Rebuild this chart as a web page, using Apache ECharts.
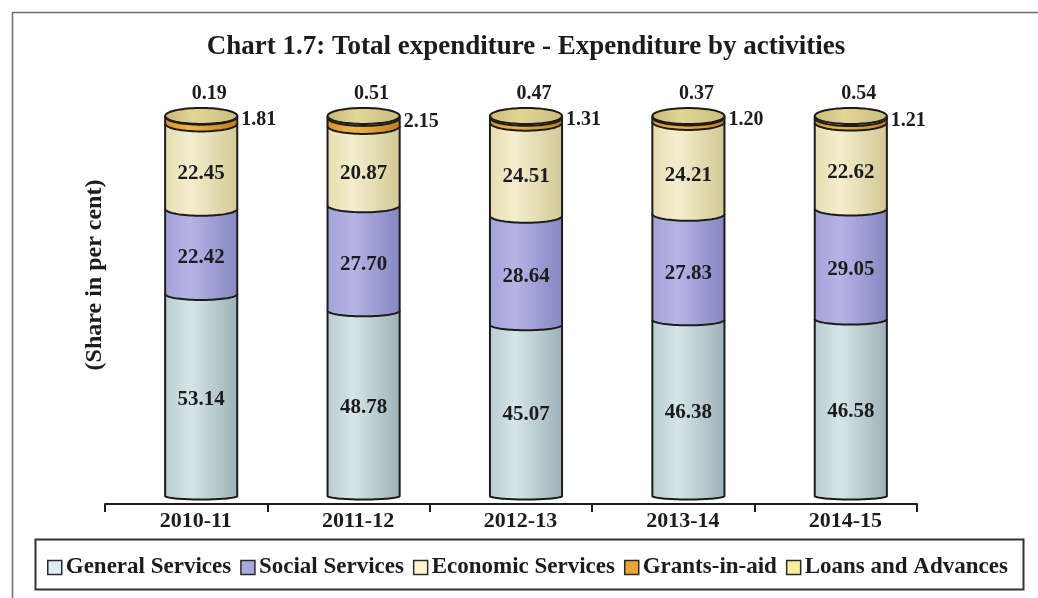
<!DOCTYPE html>
<html>
<head>
<meta charset="utf-8">
<script src="https://cdn.jsdelivr.net/npm/echarts@6/dist/echarts.min.js"></script>
<style>
  html, body { margin: 0; padding: 0; background: #ffffff; }
  #chart { width: 1038px; height: 598px; }
</style>
</head>
<body>
<div id="chart"></div>
<script>
// Share of total expenditure by activity (per cent)
const categories = ['2010-11', '2011-12', '2012-13', '2013-14', '2014-15'];
const generalServices = [53.14, 48.78, 45.07, 46.38, 46.58];
const socialServices = [22.42, 27.70, 28.64, 27.83, 29.05];
const economicServices = [22.45, 20.87, 24.51, 24.21, 22.62];
const grantsInAid = [1.81, 2.15, 1.31, 1.20, 1.21];
const loansAndAdvances = [0.19, 0.51, 0.47, 0.37, 0.54];

const seriesNames = ['General Services', 'Social Services', 'Economic Services', 'Grants-in-aid', 'Loans and Advances'];
const seriesValues = [generalServices, socialServices, economicServices, grantsInAid, loansAndAdvances];

const SERIF = '"Liberation Serif", "Times New Roman", serif';

// cylinder look for every layer: side gradient, legend swatch, label placement
const looks = [
  { left: '#b9ccd0', mid: '#d6e5e8', right: '#9db2b7', swatch: '#dcedf3', label: 'inside' },
  { left: '#a3a3d8', mid: '#b4b4e6', right: '#8787c2', swatch: '#a9a9dc', label: 'inside' },
  { left: '#e6ddb0', mid: '#f4eece', right: '#d3c995', swatch: '#fdf6cc', label: 'inside' },
  { left: '#d8922a', mid: '#f0b448', right: '#c07e20', swatch: '#e8a535', label: 'right' },
  { left: '#cfc080', mid: '#e4d79a', right: '#b9aa6a', swatch: '#fbee9c', label: 'top' }
];

const BAR_SHIFT = 15;     // cylinders sit right of the band centre
const OUTLINE = '#1c1c1c';

function rimRadius(y, y0, y100) {
  const t = (y0 - y) / (y0 - y100);
  return 3.5 + 4.5 * t;
}

function halfEllipse(cx, cy, rx, ry, from, to, steps) {
  const pts = [];
  for (let k = 0; k <= steps; k++) {
    const a = from + (to - from) * k / steps;
    pts.push([cx + rx * Math.cos(a), cy + ry * Math.sin(a)]);
  }
  return pts;
}

function makeRender(si) {
  const look = looks[si];
  const isTop = si === seriesValues.length - 1;
  return function (params, api) {
    const ci = api.value(0);
    const lo = api.value(1);
    const hi = api.value(2);
    const v = api.value(3);
    const cx = api.coord([ci, 0])[0] + BAR_SHIFT;
    const y0 = api.coord([ci, 0])[1];
    const y100 = api.coord([ci, 100])[1];
    const yLo = api.coord([ci, lo])[1];
    const yHi = api.coord([ci, hi])[1];
    const hw = api.size([1, 0])[0] * 0.222;
    const ryLo = rimRadius(yLo, y0, y100);
    const ryHi = rimRadius(yHi, y0, y100);

    const fill = {
      type: 'linear', x: 0, y: 0, x2: 1, y2: 0,
      colorStops: [
        { offset: 0, color: look.left },
        { offset: 0.35, color: look.mid },
        { offset: 1, color: look.right }
      ]
    };

    const arc = halfEllipse(cx, yLo, hw, ryLo, Math.PI, 0, 40);
    const body = [[cx - hw, yHi]].concat(arc, [[cx + hw, yHi]]);

    const children = [
      { type: 'polygon', shape: { points: body }, style: { fill: fill } },
      { type: 'polyline', shape: { points: body }, style: { fill: null, stroke: OUTLINE, lineWidth: 2 } }
    ];

    if (isTop) {
      const ring = halfEllipse(cx, yHi, hw, ryHi, 0, Math.PI * 2, 80);
      children.push({
        type: 'polygon', shape: { points: ring },
        style: { fill: { type: 'linear', x: 0, y: 0, x2: 1, y2: 0,
          colorStops: [{ offset: 0, color: '#c9b978' }, { offset: 0.4, color: '#e2d596' }, { offset: 1, color: '#cbbd7c' }] },
          stroke: OUTLINE, lineWidth: 2 }
      });
    }

    const txt = v.toFixed(2);
    if (look.label === 'inside') {
      const ryMid = (ryLo + ryHi) / 2;
      children.push({
        type: 'text', x: cx, y: (yLo + yHi) / 2 + ryMid,
        style: { text: txt, align: 'center', verticalAlign: 'middle', fill: '#1c1c1c',
          font: 'bold 21px ' + SERIF }
      });
    } else if (look.label === 'right') {
      children.push({
        type: 'text', x: cx + hw + 4, y: (yLo + yHi) / 2,
        style: { text: txt, align: 'left', verticalAlign: 'middle', fill: '#1c1c1c',
          font: 'bold 20px ' + SERIF }
      });
    } else {
      children.push({
        type: 'text', x: cx + 8, y: yHi - 22,
        style: { text: txt, align: 'center', verticalAlign: 'middle', fill: '#1c1c1c',
          font: 'bold 20px ' + SERIF }
      });
    }
    return { type: 'group', children: children };
  };
}

// stack the layers by hand: [category, base, top, value]
const base = categories.map(() => 0);
const series = seriesValues.map((vals, si) => {
  const data = vals.map((v, ci) => {
    const b = base[ci];
    base[ci] = b + v;
    return [ci, b, b + v, v];
  });
  return {
    type: 'custom',
    name: seriesNames[si],
    renderItem: makeRender(si),
    encode: { x: 0, y: [1, 2] },
    itemStyle: { color: looks[si].swatch },
    data: data,
    z: 2 + si
  };
});

const chart = echarts.init(document.getElementById('chart'), null, { renderer: 'canvas' });
chart.setOption({
  animation: false,
  backgroundColor: '#ffffff',
  grid: { left: 105, right: 121, top: 116, bottom: 102 },
  xAxis: {
    type: 'category',
    data: categories,
    offset: 8,
    axisLine: { onZero: false, lineStyle: { color: '#1c1c1c', width: 2 } },
    axisTick: { show: true, length: 8, lineStyle: { color: '#1c1c1c', width: 2 } },
    axisLabel: { color: '#1c1c1c', fontFamily: SERIF, fontWeight: 'bold', fontSize: 22,
      margin: 6, padding: [0, 0, 0, 19] },
    splitLine: { show: false }
  },
  yAxis: { type: 'value', min: 0, max: 100, show: false },
  legend: {
    left: 42, top: 551,
    itemWidth: 14, itemHeight: 14, itemGap: 9,
    icon: 'rect',
    textStyle: { color: '#1c1c1c', fontFamily: SERIF, fontWeight: 'bold', fontSize: 23, padding: [0, 0, 0, -1] },
    data: seriesNames.map((n, i) => ({ name: n, itemStyle: { color: looks[i].swatch, borderColor: '#2a2a2a', borderWidth: 1.5 } }))
  },
  graphic: [
    { type: 'rect', left: 10, top: 10, shape: { width: 1040, height: 600 },
      style: { fill: null, stroke: '#6e6e6e', lineWidth: 1.5 }, silent: true },
    { type: 'rect', left: 33, top: 537, shape: { width: 988, height: 50 },
      style: { fill: null, stroke: '#333333', lineWidth: 2 }, silent: true },
    { type: 'text', x: 526, y: 47,
      style: { text: 'Chart 1.7: Total expenditure - Expenditure by activities', align: 'center', verticalAlign: 'middle',
        fill: '#1c1c1c', font: 'bold 27px ' + SERIF } },
    { type: 'text', x: 95, y: 275, rotation: Math.PI / 2,
      style: { text: '(Share in per cent)', align: 'center', verticalAlign: 'middle',
        fill: '#1c1c1c', font: 'bold 24px ' + SERIF } }
  ],
  series: series
});
</script>
</body>
</html>
